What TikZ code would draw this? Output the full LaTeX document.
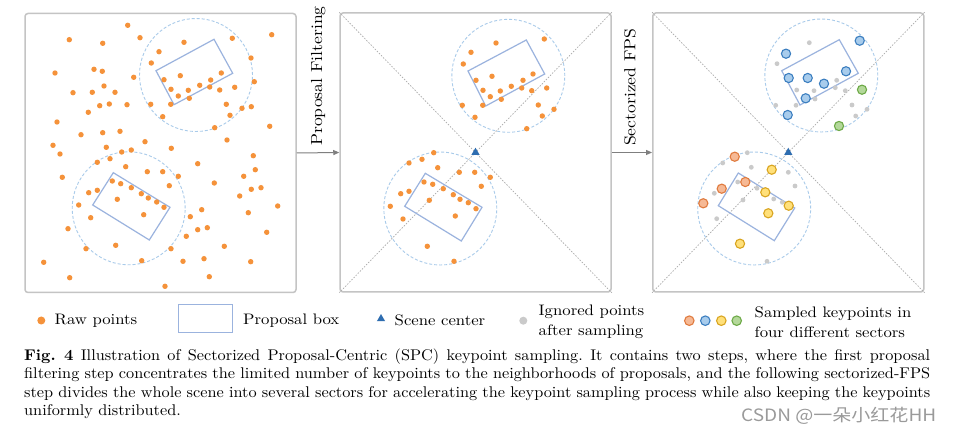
\documentclass[tikz,border=0pt]{standalone}
\usepackage{fontspec}
\newfontfamily\cjkfont{Noto Sans CJK SC}[FakeStretch=1.12]
\newfontfamily\capfont{lmroman10-regular}[Extension=.otf, BoldFont=lmroman10-bold, FakeStretch=1.05]
\newfontfamily\cambfont{lmroman10-regular}[Extension=.otf, BoldFont=lmroman10-bold, FakeStretch=1.1]
\usetikzlibrary{arrows.meta,shapes.geometric}
\definecolor{rawor}{HTML}{F5923A}
\definecolor{boxblue}{HTML}{9BB3DE}
\definecolor{ringblue}{HTML}{A9CBEA}
\definecolor{scenebl}{HTML}{2E6DB0}
\definecolor{panelgr}{HTML}{C4C4C4}
\definecolor{diaggr}{HTML}{ABABAB}
\definecolor{ignoregr}{HTML}{CACACA}
\definecolor{arrowgr}{HTML}{7F7F7F}
\definecolor{sbF}{HTML}{A8CCEC}\definecolor{sbD}{HTML}{3C7FC0}
\definecolor{soF}{HTML}{F6B995}\definecolor{soD}{HTML}{E07B3F}
\definecolor{syF}{HTML}{FFE07A}\definecolor{syD}{HTML}{D9A520}
\definecolor{sgF}{HTML}{B4D89A}\definecolor{sgD}{HTML}{6EAA48}
\definecolor{wmgr}{HTML}{9A9A9A}
\tikzset{
 panelbox/.style={draw=panelgr, line width=1.5pt, rounded corners=3pt, minimum width=271pt, minimum height=279pt, inner sep=0pt},
 ring/.style={draw=ringblue, dash pattern=on 3pt off 2pt, line width=0.9pt, circle, minimum size=113pt, inner sep=0pt},
 pbox/.style={draw=boxblue, line width=1.2pt},
 diag/.style={draw=diaggr, dash pattern=on 1.5pt off 1.5pt, line width=0.7pt},
 flow/.style={draw=arrowgr, line width=1pt, -{Triangle[length=6pt,width=5pt]}},
 scene/.style={regular polygon, regular polygon sides=3, fill=scenebl, inner sep=0pt, minimum size=9.5pt},
 lbl/.style={font=\cambfont\fontsize{16}{18}\selectfont, inner sep=0pt},
 legtxt/.style={font=\cambfont\fontsize{15.2}{20}\selectfont, inner sep=0pt, anchor=west, align=left},
 rawdot/.style={fill=rawor},
 igndot/.style={fill=ignoregr},
 skb/.style={fill=sbF, draw=sbD, line width=1.1pt},
 sko/.style={fill=soF, draw=soD, line width=1.1pt},
 sky/.style={fill=syF, draw=syD, line width=1.1pt},
 skg/.style={fill=sgF, draw=sgD, line width=1.1pt},
}
\begin{document}
\begin{tikzpicture}[x=1pt,y=-1pt]
\useasboundingbox (0,0) rectangle (953,435);
\fill[white] (0,0) rectangle (953,435);

% ---------- panels ----------
\node[panelbox] (p1) at (160.5,153) {};
\node[panelbox] (p2) at (475.5,152.5) {};
\node[panelbox] (p3) at (788.3,152.5) {};

% arrows and step labels
\draw[flow] (p1.east) -- (p2.west);
\draw[flow] (p2.east) -- (p3.west);
\node[lbl, rotate=90, anchor=west] (l1) at (318.3,146) {Proposal Filtering};
\node[lbl, rotate=90, anchor=west] (l2) at (630,146) {Sectorized FPS};

% ---------- panel 1 ----------
\node[ring] (r1a) at (196,75) {};
\node[ring] (r1b) at (128.7,208.3) {};
\draw[pbox] (156,70.7) -- (214,39.3) -- (232.7,73.3) -- (174,104.7) -- cycle;
\draw[pbox] (113.3,172.7) -- (170,207.3) -- (149.3,240) -- (92.7,205) -- cycle;
\foreach \x/\y in {127.7/25.3, 69.3/39.7, 102.7/43.3, 140/37.7, 184/42.3, 232.3/38.3, 271.7/34.7, 159/51.7, 251/58, 151.3/63, 55/73, 94/69.3, 102.3/71.3, 133.7/77.3, 180.3/75.7, 164/79.7, 221.3/73, 210.7/80, 254.3/81.7, 104/86, 73/92.7, 92.3/92.3, 115/92.3, 171/89.3, 188.3/90.3, 199.7/85.3, 209.7/87, 219.7/90, 234.7/87.3, 178.3/96, 189.3/98.3, 88.3/112.3, 99.7/105.7, 109.3/104, 127/104.7, 150.7/104.3, 170.7/104.3, 226.3/104.3, 242/108.3, 251.3/106.7, 230/115.3, 162.7/116.7, 57/122, 269.7/126.3, 214.7/127.7, 81/134.7, 102.7/132.7, 120/131.3, 227/140, 53/145.3, 145/141.7, 60/154, 106.3/147.3, 121.7/152, 131.3/150, 171.3/148.3, 253.3/155.7, 110/158.7, 97.3/162.3, 125.7/166.7, 197.7/163.7, 255.3/169.7, 147.3/171.7, 162.7/171.7, 178.3/176.3, 243.7/176.3, 62.3/177.3, 112.3/181, 120.7/183.7, 169.3/185.7, 214.3/183, 261/187.7, 251.3/189.3, 131.3/187.7, 88.7/192.7, 97.3/190.3, 141.3/193.7, 148.3/198, 156.7/202, 117.3/199.3, 239.7/196, 164/207.3, 78.7/205, 277.7/206, 201.7/209.7, 248.3/212.7, 143.7/214.7, 190.3/216.7, 90.7/217.7, 68/228.7, 207.3/227.7, 197.7/229.7, 266.7/232.3, 186.3/236.3, 115.7/245.3, 224.3/246.3, 86/248.7, 171/248.7, 204/258.7, 141.7/260.7, 183/261.3, 250.7/261.7, 43.7/262.3, 69.7/277.7, 209.3/276.7, 165/286.3}
  \fill[rawdot] (\x,\y) circle (2.7);

% ---------- panel 2 ----------
\draw[diag] (p2.north west) -- (p2.south east);
\draw[diag] (p2.north east) -- (p2.south west);
\node[ring] (r2a) at (508.3,75.8) {};
\node[ring] (r2b) at (440.3,208.5) {};
\draw[pbox] (468,71) -- (526.3,40) -- (544.7,74) -- (485.7,106) -- cycle;
\draw[pbox] (425.3,173.3) -- (482,207.3) -- (461.3,241) -- (404.7,206.3) -- cycle;
\foreach \x/\y in {496/43, 544.3/39, 471/52.3, 463.3/64, 492/76.3, 533/74, 476/80.3, 523/80.3, 483/90.3, 500.3/91, 511.3/86.3, 521.7/88, 531.7/90.7, 546.7/88, 490.3/96.7, 501.3/99.3, 462.3/105.3, 482.7/105.3, 538.3/105, 554/109.3, 542.3/116, 475/117.3, 526.7/128.7, 433.7/152.7, 422/159.3, 409/163, 437.7/167.7, 459.3/172.3, 474.7/172.3, 490.3/177.3, 424/182, 432.7/184.3, 481.3/186.3, 443.3/188.7, 409/191.3, 400.7/193.7, 453.3/194.7, 460/199.3, 468.3/202.7, 429.3/200.3, 476/208.7, 390.3/206.3, 455.3/216, 403/219, 427.3/246.3, 454/261.3}
  \fill[rawdot] (\x,\y) circle (2.7);
\node[scene] (c2) at (p2.center) {};

% ---------- panel 3 ----------
\draw[diag] (p3.north west) -- (p3.south east);
\draw[diag] (p3.north east) -- (p3.south west);
\node[ring] (r3a) at (821.3,75.5) {};
\node[ring] (r3b) at (754.2,208.5) {};
\draw[pbox] (781.7,70.7) -- (839.3,39.7) -- (858.3,73.3) -- (800,105) -- cycle;
\draw[pbox] (738.3,173) -- (794.7,208) -- (774.3,240.7) -- (718.3,205.7) -- cycle;
\foreach \x/\y in {809.3/42.7, 777/63.7, 796.7/90, 814/90.7, 836.7/80.3, 835.3/87.7, 845.3/90.7, 815/99, 775.7/105.3, 796/105.3, 852/105, 867/109.3, 855.7/116, 747.3/152.7, 722.7/163, 751.3/167.3, 788.3/172.3, 795/186, 737.7/182, 757/188.3, 714.3/193.3, 773.7/199, 782.3/202.3, 743/200, 716.7/218.7, 767/261.3}
  \fill[igndot] (\x,\y) circle (2.4);
\foreach \x/\y in {859.7/40.7, 786/53.7, 788.7/78, 807.7/78, 824/83.7, 846/71.3, 805.7/98.3, 787.7/115}
  \filldraw[skb] (\x,\y) circle (4.6);
\foreach \x/\y in {862/89.7, 839/126}
  \filldraw[skg] (\x,\y) circle (4.6);
\foreach \x/\y in {734.7/156.7, 745.3/182, 721.7/188.7, 703.3/203.3}
  \filldraw[sko] (\x,\y) circle (4.6);
\foreach \x/\y in {771.7/169.7, 765.3/192.3, 788.7/205.7, 768.3/213.3, 740/243.7}
  \filldraw[sky] (\x,\y) circle (4.6);
\node[scene] (c3) at (p3.center) {};

% ---------- legend ----------
\node[circle, fill=rawor, minimum size=8pt, inner sep=0pt] (g1) at (41.3,320.5) {};
\node[legtxt] (t1) at (54.5,320.5) {Raw points};
\node[draw=boxblue, line width=1pt, minimum width=54pt, minimum height=28pt, inner sep=0pt] (g2) at (205.5,318.8) {};
\node[legtxt] (t2) at (243,320.5) {Proposal box};
\node[scene] (g3) at (381,318.8) {};
\node[legtxt] (t3) at (394.5,320.5) {Scene center};
\node[circle, fill=ignoregr, minimum size=8pt, inner sep=0pt] (g4) at (523.3,320.7) {};
\node[legtxt] (t4) at (538.5,321.5) {Ignored points\\after sampling};
\node[circle, sko, minimum size=9.5pt, inner sep=0pt] (g5a) at (689.3,320.7) {};
\node[circle, skb, minimum size=9.5pt, inner sep=0pt] (g5b) at (705.3,320.7) {};
\node[circle, sky, minimum size=9.5pt, inner sep=0pt] (g5c) at (721.3,320.7) {};
\node[circle, skg, minimum size=9.5pt, inner sep=0pt] (g5d) at (736.7,320.7) {};
\node[legtxt] (t5) at (754.5,322) {Sampled keypoints in\\four different sectors};

% ---------- caption ----------
\node[anchor=north west, inner sep=0pt, text width=906pt, align=justify,
      font=\capfont\fontsize{15.5}{18.4}\selectfont] (cap) at (24,348.5)
{\frenchspacing\hyphenpenalty=10000\textbf{Fig.~4} Illustration of Sectorized Proposal-Centric (SPC) keypoint sampling. It contains two steps, where the first proposal\linebreak
filtering step concentrates the limited number of keypoints to the neighborhoods of proposals, and the following sectorized-FPS\linebreak
step divides the whole scene into several sectors for accelerating the keypoint sampling process while also keeping the keypoints\linebreak
uniformly distributed.};
\node[anchor=west, inner sep=0pt, text=wmgr, font=\cjkfont\fontsize{17}{17}\selectfont] (wm) at (741,415.5) {CSDN @一朵小红花HH};
\end{tikzpicture}
\end{document}
